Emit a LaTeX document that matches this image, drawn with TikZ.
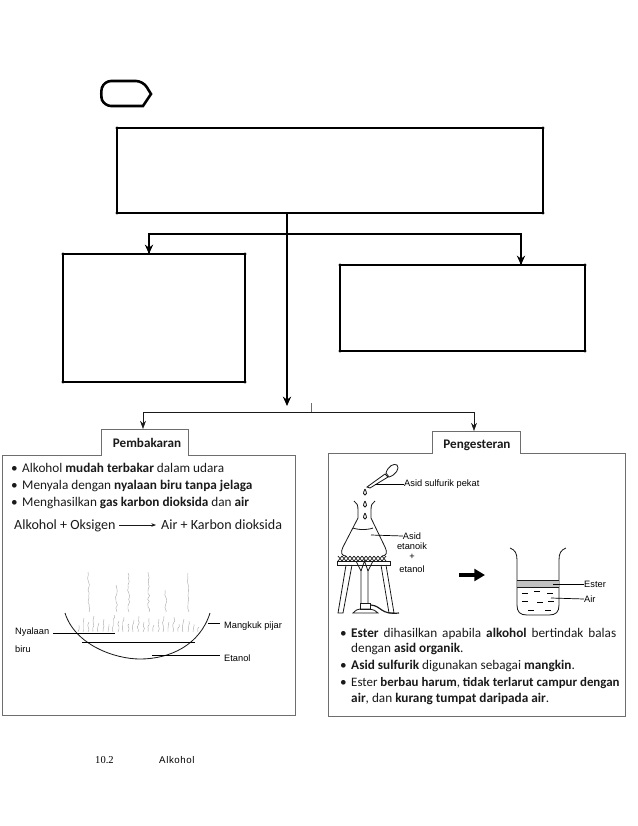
\documentclass[tikz,border=0pt]{standalone}
\usepackage{fontspec}
\setmainfont{Carlito}
\newfontfamily\labelfont{Liberation Sans}
\newfontfamily\pagefont{Liberation Serif}
\newfontfamily\footfont[LetterSpace=6]{Liberation Sans}
\usetikzlibrary{arrows.meta,positioning,calc,decorations.pathmorphing}
\definecolor{scanInk}{HTML}{1A1A1A}
\definecolor{scanGrey}{HTML}{6E6E6E}
\definecolor{scanPale}{HTML}{A8A8A8}
\tikzset{
  planbox/.style={draw=black,line width=2.2pt,inner sep=0pt,outer sep=0pt},
  planarrow/.style={-{Stealth[length=8pt,width=7pt]},black,line width=2.2pt},
  panel/.style={draw=scanGrey,line width=0.6pt},
  thinarrow/.style={-{Stealth[length=7pt,width=5pt]},scanInk,line width=0.5pt},
  bodytext/.style={anchor=base west,inner sep=0pt,text=scanInk,font=\fontsize{11.3}{13}\selectfont},
  tabtext/.style={inner sep=0pt,text=scanInk,font=\fontsize{11.2}{13}\selectfont\bfseries},
  partlabel/.style={anchor=west,inner sep=0pt,text=black,font=\labelfont\fontsize{7.9}{9}\selectfont},
  partline/.style={black,line width=0.6pt},
  glassline/.style={scanInk,line width=0.7pt},
  smoke/.style={scanPale,line width=0.35pt,decorate,decoration={random steps,segment length=2.5pt,amplitude=0.9pt}}
}
\newcommand{\bul}{\textbullet}
\begin{document}
\begin{tikzpicture}[x=0.03cm,y=-0.03cm]
  \useasboundingbox (0,0) rectangle (638,826);

  % empty plan at the top
  \draw[line width=2.2pt,rounded corners=6pt] (100,94) -- (104,81) -- (143,81) [sharp corners] -- (151,94) -- (143,106) [rounded corners=6pt] -- (104,106) -- cycle;
  \node[planbox,minimum width=12.78cm,minimum height=2.55cm] (main) at (330,170.5) {};
  \node[planbox,minimum width=5.46cm,minimum height=3.84cm] (left) at (154,318) {};
  \node[planbox,minimum width=7.35cm,minimum height=2.58cm] (right) at (462.5,308) {};
  \foreach \b in {main,left,right}
    \foreach \a in {north west,north east,south west,south east}
      \fill (\b.\a) circle (1.4pt);
  \coordinate (fork) at (287,234);
  \coordinate (down) at (287,406);
  \draw[planarrow] (main.south -| fork) -- (down);
  \draw[planarrow] (fork) -| (149,253) -- (left.north -| 149,0);
  \draw[planarrow] (fork) -| (521,264) -- (right.north -| 521,0);

  % scanned part: the two panels
  \coordinate (split) at (311,412);
  \draw[scanGrey,line width=0.5pt] (311,403) -- (split);
  \draw[panel] (2,455) -- (101,455) -- (101,429) -- (188,429) -- (188,455) -- (295,455) -- (295,715) -- (2,715) -- cycle;
  \draw[panel] (328,453) -- (432,453) -- (432,431) -- (520,431) -- (520,453) -- (625,453) -- (625,716) -- (328,716) -- cycle;
  \node[tabtext] (pem) at (147,443) {Pembakaran};
  \node[tabtext] (pen) at (477,445) {Pengesteran};
  \draw[thinarrow] (split) -| (143,429);
  \draw[thinarrow] (split) -| (474,431);

  \node[bodytext] (p1) at (11,472) {\bul};
  \node[bodytext] (t1) at (22,472) {Alkohol \textbf{mudah terbakar} dalam udara};
  \node[bodytext] (p2) at (11,489) {\bul};
  \node[bodytext] (t2) at (22,489) {Menyala dengan \textbf{nyalaan biru tanpa jelaga}};
  \node[bodytext] (p3) at (11,506) {\bul};
  \node[bodytext] (t3) at (22,506) {Menghasilkan \textbf{gas karbon dioksida} dan \textbf{air}};
  \node[bodytext,font=\fontsize{12}{13}\selectfont] (eqa) at (14,529) {Alkohol + Oksigen};
  \node[bodytext,font=\fontsize{12}{13}\selectfont] (eqb) at (161,529) {Air + Karbon dioksida};
  \draw[-{Stealth[length=4pt,width=3pt]},scanInk,line width=0.5pt] (119,525) -- (156,525);

  % burning dish
  \pgfmathsetseed{7}
  \foreach \x/\t in {88/572,128/573,148/572,165/590,188/573,116/585}
    \draw[smoke] (\x,\t) -- (\x+1,612);
  \foreach \x/\t in {78/625,83/618,88/622,93/616,98/623,103/619,108/624,113/615,118/621,123/617,128/624,133/620,138/616,143/622,148/618,153/625,158/619,163/616,168/622,173/617,178/624,183/619,188/621,193/624,198/627}
    \draw[smoke] (\x,632) -- (\x+1,\t);
  \draw[glassline] (65,613) .. controls (75,645) and (115,659) .. (140,659) .. controls (170,659) and (200,645) .. (210,613);
  \draw[partline] (82,642) -- (195,642);
  \node[partlabel] (nya) at (15,632) {Nyalaan};
  \node[partlabel] (bir) at (15,649) {biru};
  \node[partlabel] (mang) at (224,626) {Mangkuk pijar};
  \node[partlabel] (eta) at (224,658) {Etanol};
  \draw[partline] (nya.east) ++(4,1) -- (115,633);
  \draw[partline] (208,623) -- (220,623);
  \draw[partline] (152,655) -- (220,655);

  % dropper and flask
  \draw[glassline,fill=white] (367,487) -- (385,474) -- (388,477) -- (370,488) -- cycle;
  \draw[glassline,fill=white] (386,473) .. controls (388,466) and (394,463) .. (397,465) .. controls (400,468) and (396,475) .. (389,477) -- cycle;
  \foreach \y in {492,504,516}
    \draw[glassline] (365,\y-3) .. controls (363,\y+1) and (363,\y+3) .. (365,\y+3) .. controls (367,\y+3) and (367,\y+1) .. (365,\y-3);
  \draw[glassline] (354,501) .. controls (357,503) and (358,505) .. (358,510) -- (358,518) -- (343,547) .. controls (340,553) and (342,556) .. (346,556);
  \draw[glassline] (375,501) .. controls (372,503) and (371,505) .. (371,510) -- (371,518) -- (385,547) .. controls (388,553) and (386,556) .. (382,556);
  \draw[glassline] (353,528) .. controls (358,530) and (368,530) .. (373,528);
  \foreach \x in {338,342,...,384} {
    \draw[scanInk,line width=0.6pt] (\x,556) -- (\x+4,561);
    \draw[scanInk,line width=0.6pt] (\x,561) -- (\x+4,556);
  }
  \draw[glassline] (337,561) rectangle (390,565);
  \draw[glassline] (346,565) -- (338,613) -- (343,613) -- (352,565);
  \draw[glassline] (381,565) -- (389,613) -- (394,613) -- (386,565);
  \draw[glassline] (361,603) -- (361,571) -- (356,561) (368,603) -- (368,571) -- (373,561);
  \draw[glassline] (361,571) -- (364.5,561) -- (368,571);
  \draw[glassline] (360,603) rectangle (370,609);
  \draw[glassline] (353,613) .. controls (356,610) and (358,609) .. (360,609) -- (370,609) .. controls (373,609) and (376,611) .. (378,613) -- cycle;
  \draw[scanInk,line width=1pt] (371,605) .. controls (382,606) and (380,615) .. (399,613);
  \node[partlabel] (pekat) at (404,484) {Asid sulfurik pekat};
  \draw[partline] (375,484) -- (pekat.west);
  \node[partlabel,anchor=center] (asid) at (412,536) {Asid};
  \node[partlabel,anchor=center] (etk) at (412,546) {etanoik};
  \node[partlabel,anchor=center] (plus) at (412,557) {+};
  \node[partlabel,anchor=center] (etl) at (412,569) {etanol};
  \draw[partline] (371,535) -- (asid.west);

  % fat arrow and beaker
  \coordinate (fat) at (459,575);
  \coordinate (fatend) at (485,575);
  \draw[-{Triangle[length=9pt,width=10pt]},black,line width=3pt] (fat) -- (fatend);
  \draw[glassline] (510,548) .. controls (515,550) and (517,553) .. (517,560) -- (517,605) .. controls (517,612) and (520,615) .. (527,615) -- (549,615) .. controls (556,615) and (559,612) .. (559,605) -- (559,560) .. controls (559,553) and (561,550) .. (566,548);
  \fill[scanPale!70] (517.5,580) rectangle (558.5,587);
  \draw[glassline] (517,580) -- (559,580) (517,587) -- (559,587);
  \foreach \x/\y in {522/593,534/591,547/593,522/601,537/602,548/601,528/610,545/610}
    \draw[partline] (\x,\y) -- (\x+6,\y);
  \node[partlabel] (est) at (584,584) {Ester};
  \node[partlabel] (air) at (584,599) {Air};
  \draw[partline] (553,584) -- (est.west);
  \draw[partline] (551,598) -- (air.west);

  \node[bodytext] (q1) at (340,637) {\bul};
  \node[bodytext] (s1) at (351,637) {\makebox[7.95cm][s]{\textbf{Ester} dihasilkan apabila \textbf{alkohol} bertindak balas}};
  \node[bodytext] (s2) at (351,652) {dengan \textbf{asid organik}.};
  \node[bodytext] (q3) at (340,669) {\bul};
  \node[bodytext] (s3) at (351,669) {\textbf{Asid sulfurik} digunakan sebagai \textbf{mangkin}.};
  \node[bodytext] (q4) at (340,686) {\bul};
  \node[bodytext,font=\fontsize{11}{13}\selectfont] (s4) at (351,686) {Ester \textbf{berbau harum}, \textbf{tidak terlarut campur dengan}};
  \node[bodytext] (s5) at (351,702) {\textbf{air}, dan \textbf{kurang tumpat daripada air}.};

  % page foot
  \node[anchor=base west,inner sep=0pt,font=\pagefont\fontsize{9}{10}\selectfont] (num) at (95,763) {10.2};
  \node[anchor=base west,inner sep=0pt,font=\footfont\fontsize{8.3}{10}\selectfont] (tit) at (159,763) {Alkohol};
\end{tikzpicture}
\end{document}
